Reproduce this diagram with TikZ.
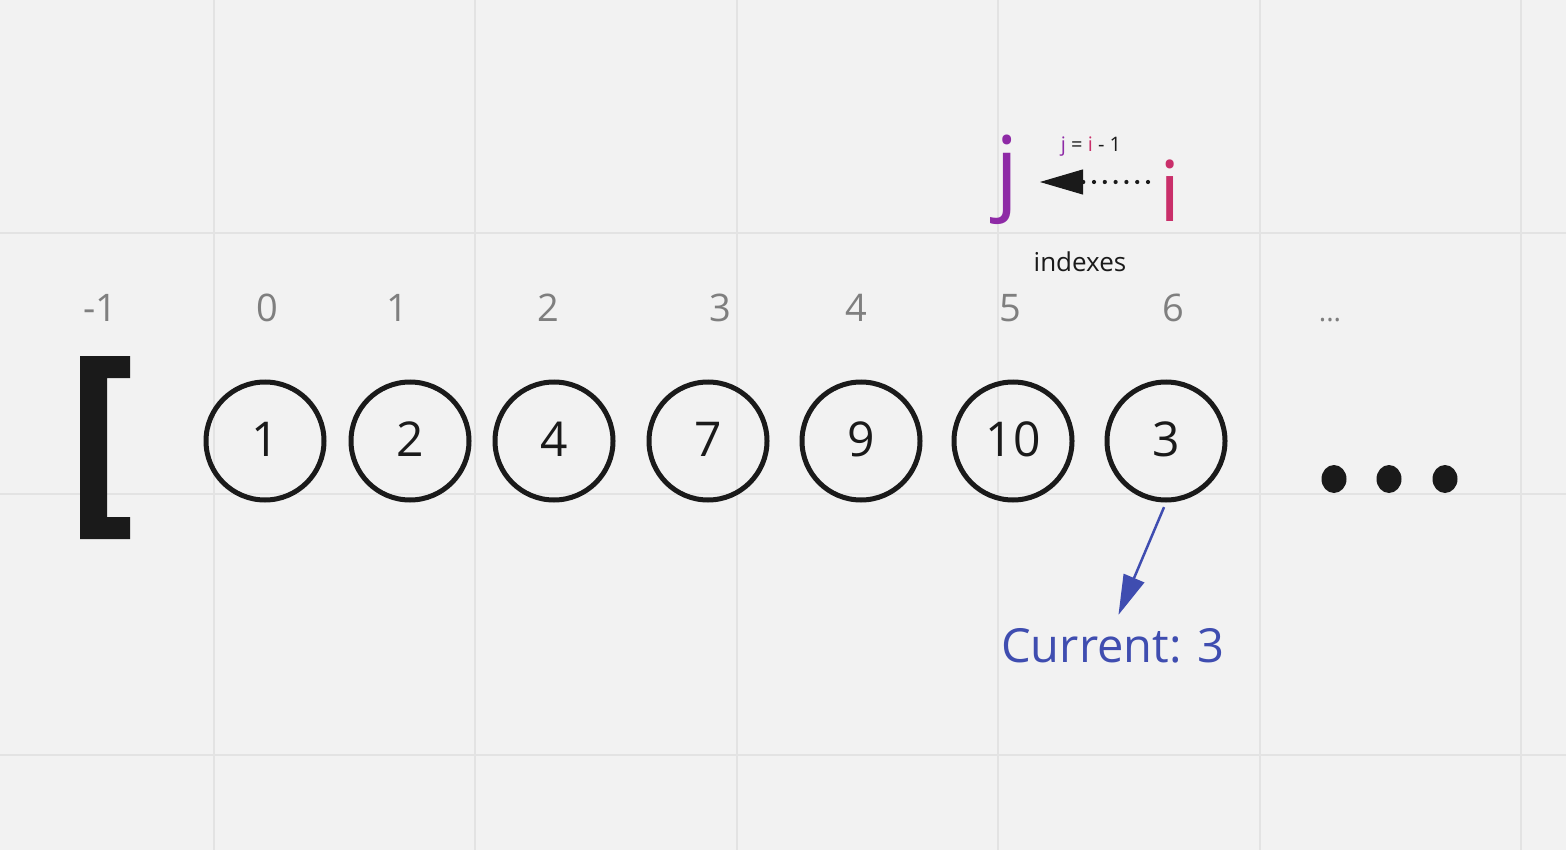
\documentclass[tikz,border=0pt]{standalone}
\usepackage{fontspec}
\setmainfont{Open Sans}
\usetikzlibrary{arrows.meta}
\definecolor{bg}{HTML}{F2F2F2}
\definecolor{gridc}{HTML}{E3E3E3}
\definecolor{ink}{HTML}{1A1A1A}
\definecolor{idxgray}{HTML}{7F7F7F}
\definecolor{jpurple}{HTML}{8E2AA6}
\definecolor{icrimson}{HTML}{C92F6A}
\definecolor{curblue}{HTML}{3F4DB0}
\tikzset{
  gridline/.style={draw=gridc, line width=2pt},
  cell/.style={circle, draw=ink, line width=5pt, minimum size=118pt, inner sep=0pt,
    font=\fontsize{48}{56}\selectfont, text=ink},
  celltext/.style={anchor=base, inner sep=0pt, font=\fontsize{48}{56}\selectfont, text=ink},
  idx/.style={anchor=base, inner sep=0pt, text=idxgray, font=\fontsize{38}{44}\selectfont},
  bigdot/.style={fill=ink, draw=none},
}
\begin{document}
\begin{tikzpicture}[x=1pt,y=-1pt]
\fill[bg] (0,0) rectangle (1566,850);
\useasboundingbox (0,0) rectangle (1566,850);
% grid
\foreach \gx in {214,475,737,998,1260,1521} \draw[gridline] (\gx,0) -- (\gx,850);
\foreach \gy in {233,494,755} \draw[gridline] (0,\gy) -- (1566,\gy);

% bracket
\fill[ink] (80,356) -- (130,356) -- (130,378) -- (107,378) -- (107,517) -- (130,517) -- (130,539) -- (80,539) -- cycle;

% index labels
\node[idx] (im1) at (100,322) {-1};
\node[idx] (i0) at (267,322) {0};
\node[idx] (i1) at (397,322) {1};
\node[idx] (i2) at (548,322) {2};
\node[idx] (i3) at (720,322) {3};
\node[idx] (i4) at (856,322) {4};
\node[idx] (i5) at (1010,322) {5};
\node[idx] (i6) at (1173,322) {6};
\node[idx, font=\fontsize{28}{32}\selectfont] (idots) at (1330,322) {...};

% cells
\node[cell] (c0) at (265,441) {};
\node[cell] (c1) at (410,441) {};
\node[cell] (c2) at (554,441) {};
\node[cell] (c3) at (708,441) {};
\node[cell] (c4) at (861,441) {};
\node[cell] (c5) at (1013,441) {};
\node[cell] (c6) at (1166,441) {};
\node[celltext] (t0) at (265,456) {1};
\node[celltext] (t1) at (410,456) {2};
\node[celltext] (t2) at (554,456) {4};
\node[celltext] (t3) at (708,456) {7};
\node[celltext] (t4) at (861,456) {9};
\node[celltext] (t5) at (1013,456) {10};
\node[celltext] (t6) at (1166,456) {3};

% big ellipsis
\fill[bigdot] (1334,479) ellipse [x radius=12.5, y radius=14];
\fill[bigdot] (1389,479) ellipse [x radius=12.5, y radius=14];
\fill[bigdot] (1445,479) ellipse [x radius=12.5, y radius=14];

% j and i
\node[anchor=base, inner sep=0pt, text=jpurple, font=\fontsize{92}{100}\selectfont] (j) at (1007,203) {j};
\node[anchor=base, inner sep=0pt, text=icrimson, font=\fontsize{84}{96}\selectfont] (i) at (1170,222) {i};
\node[anchor=base, inner sep=0pt, text=ink, font=\fontsize{20}{24}\selectfont] (rel) at (1091,152)
  {\textcolor{jpurple}{j} = \textcolor{icrimson}{i} - 1};
\node[anchor=base, inner sep=0pt, text=ink, font=\fontsize{26}{30}\selectfont] (indexes) at (1080,272) {indexes};

\coordinate (arrs) at (1148,182);
\coordinate (arre) at (1040,182);
\draw[ink, line width=4.2pt, line cap=round, dash pattern=on 0pt off 10.8pt] (arrs) -- (1083,182);
\draw[ink, line width=1pt, -{Triangle[length=43pt,width=25pt]}] (1080,182) -- (arre);

% current
\node[anchor=base, inner sep=0pt, text=curblue, font=\fontsize{47}{56}\selectfont] (cur) at (1113,662) {Current: 3};
\draw[curblue, line width=2.5pt, shorten <=5pt, shorten >=14pt, -{Triangle[length=40pt,width=22pt]}] (c6.south) -- (cur.north);
\end{tikzpicture}
\end{document}
